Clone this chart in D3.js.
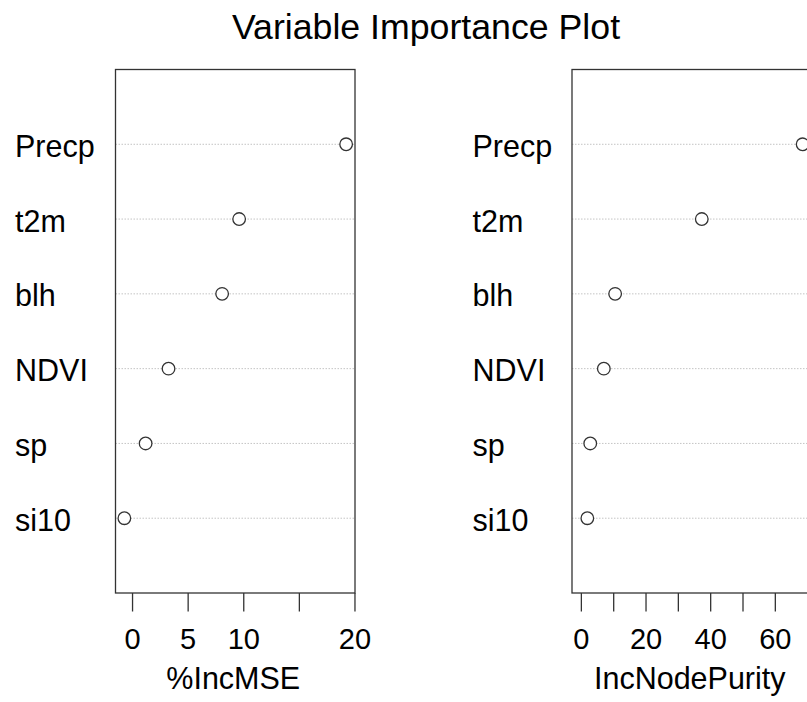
<!DOCTYPE html>
<html>
<head>
<meta charset="utf-8">
<script src="https://cdn.jsdelivr.net/npm/d3@7"></script>
<style>
  body { margin: 0; background: #fff; }
  text { font-family: "Liberation Sans", Arial, sans-serif; fill: #000; }
</style>
</head>
<body>
<div id="viz"></div>
<script>
// variables, bottom to top as R dotchart draws them
var variables = ["si10", "sp", "NDVI", "blh", "t2m", "Precp"];
var incMSE = [-0.69, 1.22, 3.28, 8.1, 9.63, 19.25];
var incNodePurity = [2.0, 2.9, 7.1, 10.6, 37.4, 68.6];

var mseTicks = [0, 5, 10, 15, 20];
var mseTickLabels = ["0", "5", "10", "", "20"];
var purityTicks = [0, 10, 20, 30, 40, 50, 60, 70];
var purityTickLabels = ["0", "", "20", "", "40", "", "60", ""];

var W = 807, H = 702;
var top0 = 69.5, bottom0 = 593, panelW = 239.5;

var svg = d3.select("#viz")
  .append("svg")
    .attr("width", W)
    .attr("height", H);

svg.append("text")
  .attr("x", 426)
  .attr("y", 39)
  .attr("text-anchor", "middle")
  .style("font-size", "35.7px")
  .text("Variable Importance Plot");

// rows on a 0..n+1 scale like dotchart
var y = d3.scalePoint()
  .domain(variables)
  .range([bottom0, top0])
  .padding(1);

function panel(left, labelX, values, xmin, ticks, tickLabels, title) {
  var lo = xmin, hi = d3.max(values);
  var pad = (hi - lo) * 0.04;
  var x = d3.scaleLinear()
    .domain([lo - pad, hi + pad])
    .range([left, left + panelW]);

  var g = svg.append("g");

  // row labels
  g.selectAll("text.lab")
    .data(variables)
    .enter()
    .append("text")
    .attr("class", "lab")
    .attr("x", labelX)
    .attr("y", function(d) { return y(d); })
    .attr("dy", "0.41em")
    .style("font-size", "30.5px")
    .text(function(d) { return d; });

  // dotted guide lines
  g.selectAll("line.guide")
    .data(variables)
    .enter()
    .append("line")
    .attr("x1", left)
    .attr("x2", left + panelW)
    .attr("y1", function(d) { return y(d); })
    .attr("y2", function(d) { return y(d); })
    .attr("stroke", "#c4c4c4")
    .attr("stroke-width", 1)
    .attr("stroke-dasharray", "1.5,1.5");

  // box
  g.append("rect")
    .attr("x", left)
    .attr("y", top0)
    .attr("width", panelW)
    .attr("height", bottom0 - top0)
    .attr("fill", "none")
    .attr("stroke", "#333")
    .attr("stroke-width", 1.3);

  // points
  g.selectAll("circle")
    .data(values)
    .enter()
    .append("circle")
    .attr("cx", function(d) { return x(d); })
    .attr("cy", function(d, i) { return y(variables[i]); })
    .attr("r", 6.3)
    .attr("fill", "#fff")
    .attr("stroke", "#333")
    .attr("stroke-width", 1.3);

  // x axis
  var ax = g.append("g")
    .attr("transform", "translate(0," + bottom0 + ")")
    .call(d3.axisBottom(x)
      .tickValues(ticks)
      .tickSize(18.5)
      .tickPadding(17)
      .tickFormat(function(d, i) { return tickLabels[i]; }));
  ax.select(".domain").remove();
  ax.selectAll("line").attr("stroke", "#333").attr("stroke-width", 1.3);
  ax.selectAll("text")
    .style("font-size", "29px")
    .style("font-family", "'Liberation Sans', Arial, sans-serif")
    .attr("fill", "#000");

  g.append("text")
    .attr("x", left + panelW / 2 - 2)
    .attr("y", 688.5)
    .attr("text-anchor", "middle")
    .style("font-size", "30.5px")
    .text(title);
}

panel(115.5, 15, incMSE, d3.min(incMSE), mseTicks, mseTickLabels, "%IncMSE");
panel(572, 472.5, incNodePurity, 0, purityTicks, purityTickLabels, "IncNodePurity");
</script>
</body>
</html>
